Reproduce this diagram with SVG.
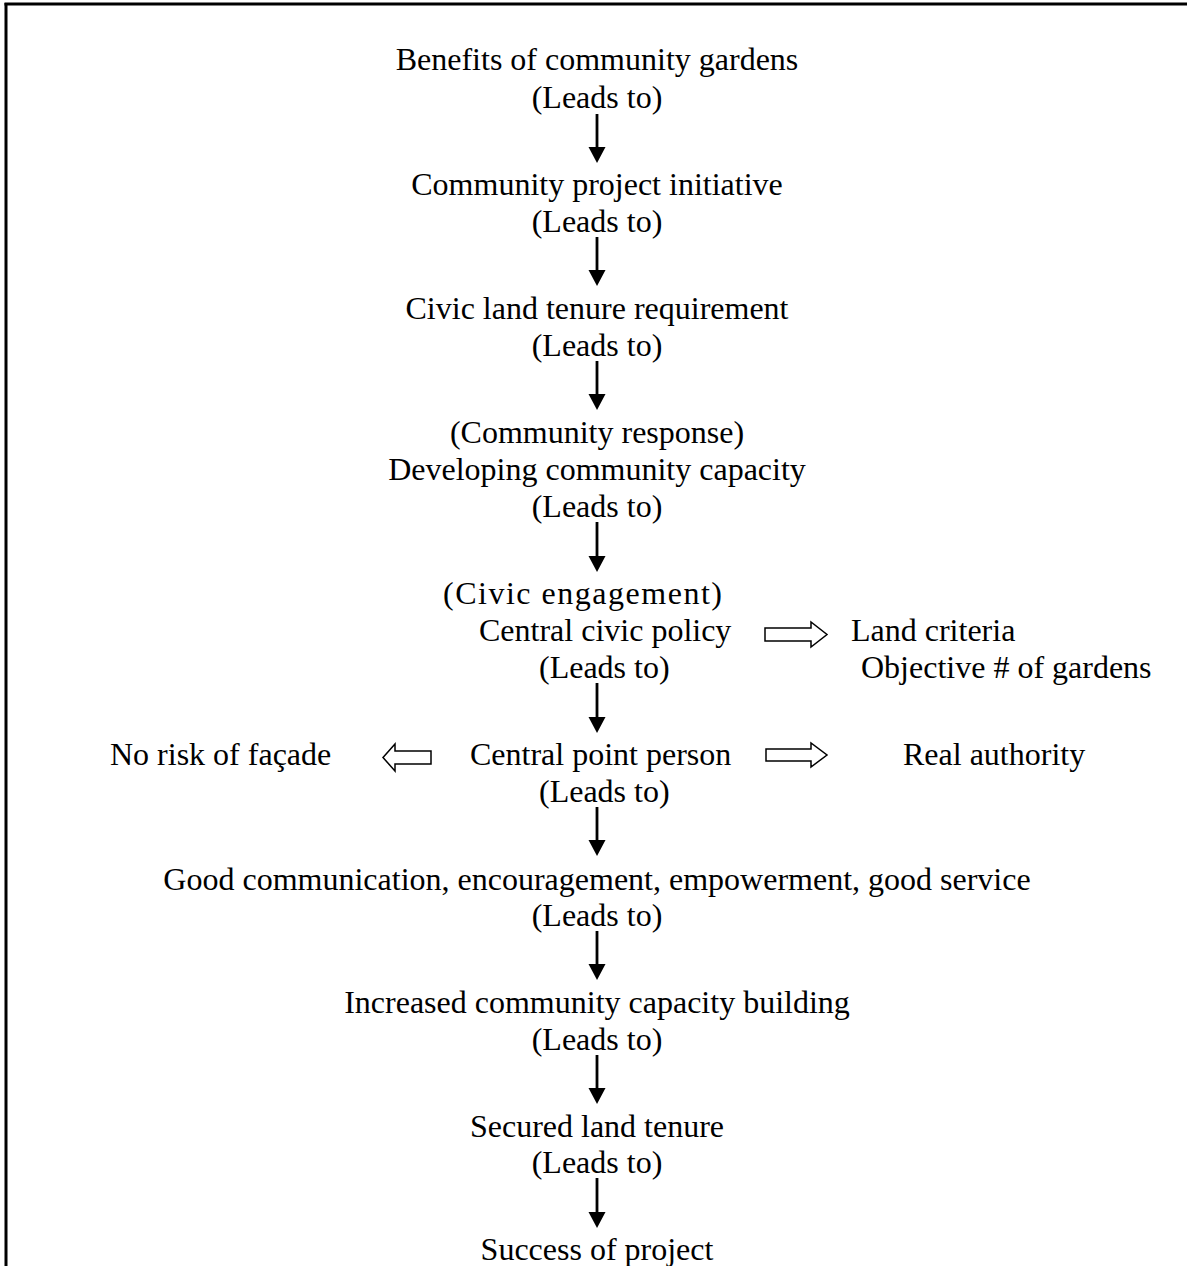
<svg xmlns="http://www.w3.org/2000/svg" width="1187" height="1266" viewBox="0 0 1187 1266">
<style>
text{font-family:"Liberation Serif","Times New Roman",serif;font-size:32px;fill:#000}
.c{text-anchor:middle}
.ln{stroke:#000;stroke-width:2.8;fill:none}
.blk{fill:#fff;stroke:#000;stroke-width:1.5}
</style>
<rect width="1187" height="1266" fill="#fff"/>
<g id="frame">
<line x1="4.5" y1="4" x2="1187" y2="4" stroke="#000" stroke-width="3"/>
<line x1="6" y1="3" x2="6" y2="1266" stroke="#000" stroke-width="3"/>
</g>
<g id="n1"><text class="c" x="597" y="70">Benefits of community gardens</text><text class="c" x="597" y="108">(Leads to)</text></g>
<g id="n2"><text class="c" x="597" y="195">Community project initiative</text><text class="c" x="597" y="232">(Leads to)</text></g>
<g id="n3"><text class="c" x="597" y="319">Civic land tenure requirement</text><text class="c" x="597" y="356">(Leads to)</text></g>
<g id="n4"><text class="c" x="597" y="443">(Community response)</text><text class="c" x="597" y="480">Developing community capacity</text><text class="c" x="597" y="517">(Leads to)</text></g>
<g id="n5"><text x="443" y="604" textLength="279" lengthAdjust="spacing">(Civic engagement)</text><text x="479" y="641">Central civic policy</text><text x="539" y="678">(Leads to)</text></g>
<g id="n5r"><text x="851" y="641">Land criteria</text><text x="861" y="678">Objective # of gardens</text></g>
<g id="n6"><text x="470" y="765">Central point person</text><text x="539" y="802">(Leads to)</text></g>
<g id="n6l"><text x="110" y="765">No risk of façade</text></g>
<g id="n6r"><text x="903" y="765">Real authority</text></g>
<g id="n7"><text class="c" x="597" y="890">Good communication, encouragement, empowerment, good service</text><text class="c" x="597" y="926">(Leads to)</text></g>
<g id="n8"><text class="c" x="597" y="1013">Increased community capacity building</text><text class="c" x="597" y="1050">(Leads to)</text></g>
<g id="n9"><text class="c" x="597" y="1137">Secured land tenure</text><text class="c" x="597" y="1173">(Leads to)</text></g>
<g id="n10"><text class="c" x="597" y="1260">Success of project</text></g>
<g id="connectors">
<g fill="#000">
<line class="ln" x1="597" y1="114" x2="597" y2="150"/><path d="M588.5,147 H605.5 L597,163 Z"/>
<line class="ln" x1="597" y1="237" x2="597" y2="273"/><path d="M588.5,270 H605.5 L597,286 Z"/>
<line class="ln" x1="597" y1="361" x2="597" y2="397"/><path d="M588.5,394 H605.5 L597,410 Z"/>
<line class="ln" x1="597" y1="522" x2="597" y2="559"/><path d="M588.5,556 H605.5 L597,572 Z"/>
<line class="ln" x1="597" y1="683" x2="597" y2="720"/><path d="M588.5,717 H605.5 L597,733 Z"/>
<line class="ln" x1="597" y1="807" x2="597" y2="843"/><path d="M588.5,840 H605.5 L597,856 Z"/>
<line class="ln" x1="597" y1="931" x2="597" y2="967"/><path d="M588.5,964 H605.5 L597,980 Z"/>
<line class="ln" x1="597" y1="1055" x2="597" y2="1091"/><path d="M588.5,1088 H605.5 L597,1104 Z"/>
<line class="ln" x1="597" y1="1178" x2="597" y2="1215"/><path d="M588.5,1212 H605.5 L597,1228 Z"/>
</g>
<path class="blk" d="M765,628 H811 V622 L827,634.5 L811,647 V641 H765 Z"/>
<path class="blk" d="M766,749 H811 V743 L827,755 L811,767 V761 H766 Z"/>
<path class="blk" d="M431,751 H395 V744 L383,757.5 L395,771 V764 H431 Z"/>
</g>
</svg>
